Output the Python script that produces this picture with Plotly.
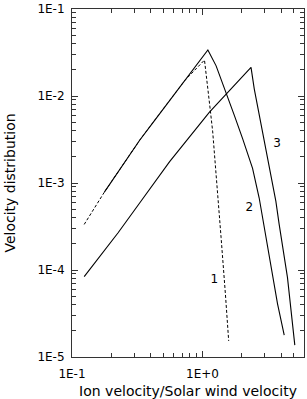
import plotly.graph_objects as go

# Curve 1 (dashed)
c1_x = [0.124, 0.177, 0.330, 0.430, 0.729, 1.036, 1.098, 1.145, 1.198, 1.272, 1.389, 1.498, 1.588]
c1_y = [3.34e-4, 7.85e-4, 3.10e-3, 5.25e-3, 1.50e-2, 2.59e-2, 1.315e-2, 7.1e-3, 3.86e-3, 1.35e-3, 2.35e-4, 5.32e-5, 1.53e-5]

# Curve 2 (solid)
c2_x = [0.177, 0.330, 0.430, 0.729, 1.10, 1.272, 1.517, 1.754, 2.03, 2.42, 2.72, 3.24, 3.76, 4.23]
c2_y = [7.85e-4, 3.10e-3, 5.25e-3, 1.50e-2, 3.38e-2, 2.22e-2, 1.104e-2, 5.98e-3, 3.24e-3, 1.476e-3, 6.72e-4, 1.39e-4, 4.09e-5, 1.78e-5]

# Curve 3 (solid)
c3_x = [0.124, 0.2256, 0.330, 0.560, 1.131, 1.613, 2.355, 2.495, 2.886, 3.345, 3.652, 3.87, 4.48, 5.10]
c3_y = [8.38e-5, 2.68e-4, 5.89e-4, 1.76e-3, 6.53e-3, 1.153e-2, 2.13e-2, 1.20e-2, 3.86e-3, 1.35e-3, 6.15e-4, 3.34e-4, 8.22e-5, 1.37e-5]

# Curve labels
label_text = ["1", "2", "3"]
label_x = [1.235, 2.286, 3.737]
label_y = [7.75e-5, 5.16e-4, 2.84e-3]

x_tickvals = [0.1, 1.0]
x_ticktext = ["1E-1", "1E+0"]
y_tickvals = [1e-5, 1e-4, 1e-3, 1e-2, 1e-1]
y_ticktext = ["1E-5", "1E-4", "1E-3", "1E-2", "1E-1"]
x_minor = [0.2, 0.3, 0.4, 0.5, 0.6, 0.7, 0.8, 0.9, 2, 3, 4, 5]
y_minor = [m * d for d in [1e-5, 1e-4, 1e-3, 1e-2] for m in range(2, 10)]

font = "DejaVu Sans, Liberation Sans, sans-serif"

fig = go.Figure()
fig.add_trace(go.Scatter(x=c1_x, y=c1_y, mode="lines",
                         line=dict(color="black", width=1, dash="3px,2px")))
fig.add_trace(go.Scatter(x=c2_x, y=c2_y, mode="lines",
                         line=dict(color="black", width=1.1)))
fig.add_trace(go.Scatter(x=c3_x, y=c3_y, mode="lines",
                         line=dict(color="black", width=1.1)))
fig.add_trace(go.Scatter(x=label_x, y=label_y, mode="text", text=label_text,
                         textfont=dict(family=font, size=12, color="black")))

axis_common = dict(type="log", showgrid=False, zeroline=False,
                   showline=True, linecolor="#333", linewidth=1, mirror="ticks",
                   ticks="inside", ticklen=6, tickcolor="#333", tickwidth=1,
                   ticklabeloverflow="allow",
                   tickfont=dict(family=font, size=12, color="black"))

fig.update_xaxes(**axis_common, range=[-1, 0.778],
                 tickmode="array", tickvals=x_tickvals, ticktext=x_ticktext,
                 ticklabelstandoff=6,
                 minor=dict(tickmode="array", tickvals=x_minor, ticks="inside",
                            ticklen=4, tickcolor="#333"),
                 title=dict(text="Ion velocity/Solar wind velocity",
                            font=dict(family=font, size=14, color="black"),
                            standoff=5))
fig.update_yaxes(**axis_common, range=[-5, -1],
                 tickmode="array", tickvals=y_tickvals, ticktext=y_ticktext,
                 ticklabelstandoff=4,
                 minor=dict(tickmode="array", tickvals=y_minor, ticks="inside",
                            ticklen=4, tickcolor="#333"),
                 title=dict(text="Velocity distribution",
                            font=dict(family=font, size=14, color="black"),
                            standoff=18))

fig.update_layout(width=307, height=399, autosize=False,
                  margin=dict(l=72, r=2, t=6, b=42),
                  paper_bgcolor="white", plot_bgcolor="white",
                  showlegend=False)

fig.write_html("out.html", config={"displayModeBar": False},
               post_script="document.body.style.margin='0';")
